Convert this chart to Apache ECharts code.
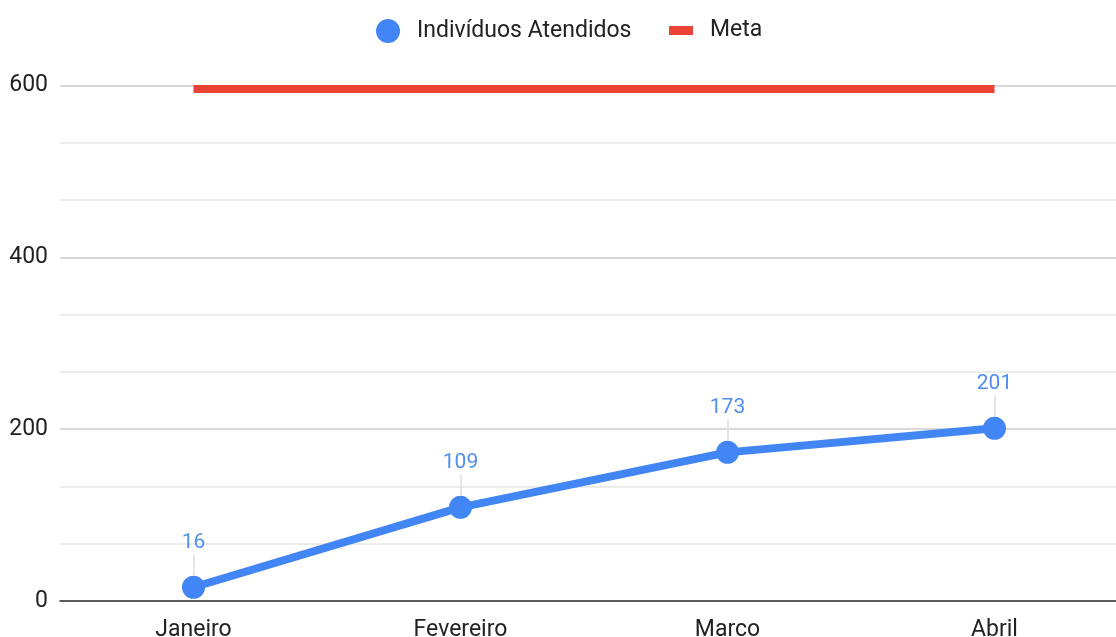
<!DOCTYPE html>
<html>
<head>
<meta charset="utf-8">
<style>
  html, body { margin: 0; padding: 0; background: #fff; }
  #chart { width: 1116px; height: 637px; }
</style>
<script src="https://cdn.jsdelivr.net/npm/echarts@6/dist/echarts.min.js"></script>
</head>
<body>
<div id="chart"></div>
<script>
// dados do gráfico
var meses = ["Janeiro", "Fevereiro", "Marco", "Abril"];
var atendidos = [16, 109, 173, 201];
var meta = [596, 596, 596, 596];
var yTicks = [0, 200, 400, 600];

// hastes cinzas das anotações (do ponto até o rótulo)
var hastes = atendidos.map(function (v, i) {
  return [{ coord: [meses[i], v + 14] }, { coord: [meses[i], v + 38] }];
});

var chart = echarts.init(document.getElementById("chart"));
var option = {
  animation: false,
  textStyle: { fontFamily: "Roboto, Arial, sans-serif" },
  legend: [
    {
      data: [{ name: "Indivíduos Atendidos", icon: "circle" }],
      left: 376,
      top: 19,
      padding: 0,
      itemWidth: 24,
      itemHeight: 24,
      textStyle: { fontSize: 23, color: "#222", padding: [0, 0, 0, 12] }
    },
    {
      data: [{ name: "Meta", icon: "rect" }],
      left: 669,
      top: 19,
      padding: 0,
      itemWidth: 24,
      itemHeight: 9,
      textStyle: { fontSize: 23, color: "#222", padding: [0, 0, 0, 12] }
    }
  ],
  grid: {
    left: 60,
    right: -12,
    top: 85.5,
    bottom: 36,
    containLabel: false,
    outerBoundsMode: "none"
  },
  xAxis: {
    type: "category",
    data: meses,
    boundaryGap: true,
    axisLine: { lineStyle: { color: "#333", width: 1.5 } },
    axisTick: { show: false },
    axisLabel: { fontSize: 23, color: "#222", margin: 18 }
  },
  yAxis: {
    type: "value",
    min: yTicks[0],
    max: yTicks[yTicks.length - 1],
    interval: 200,
    axisLine: { show: false },
    axisTick: { show: false },
    axisLabel: { fontSize: 23, color: "#222", margin: 12 },
    splitLine: { lineStyle: { color: "#cccccc", width: 1.5 } },
    minorTick: { show: false, splitNumber: 3 },
    minorSplitLine: { show: true, lineStyle: { color: "#e6e6e6", width: 1.5 } }
  },
  series: [
    {
      name: "Meta",
      type: "line",
      data: meta,
      symbol: "none",
      clip: false,
      itemStyle: { color: "#EA4335" },
      lineStyle: { color: "#EA4335", width: 8 },
      z: 2
    },
    {
      name: "Indivíduos Atendidos",
      type: "line",
      data: atendidos,
      symbol: "circle",
      symbolSize: 23,
      clip: false,
      itemStyle: { color: "#4285F4" },
      lineStyle: { color: "#4285F4", width: 8 },
      label: {
        show: true,
        position: "top",
        distance: 23,
        fontSize: 21,
        color: "#4f8ef0"
      },
      markLine: {
        silent: true,
        symbol: "none",
        label: { show: false },
        lineStyle: { color: "#dddddd", width: 1.5, type: "solid" },
        data: hastes
      },
      z: 3
    }
  ]
};
chart.setOption(option);
window.addEventListener("resize", function () {
  chart.resize();
});
</script>
</body>
</html>
